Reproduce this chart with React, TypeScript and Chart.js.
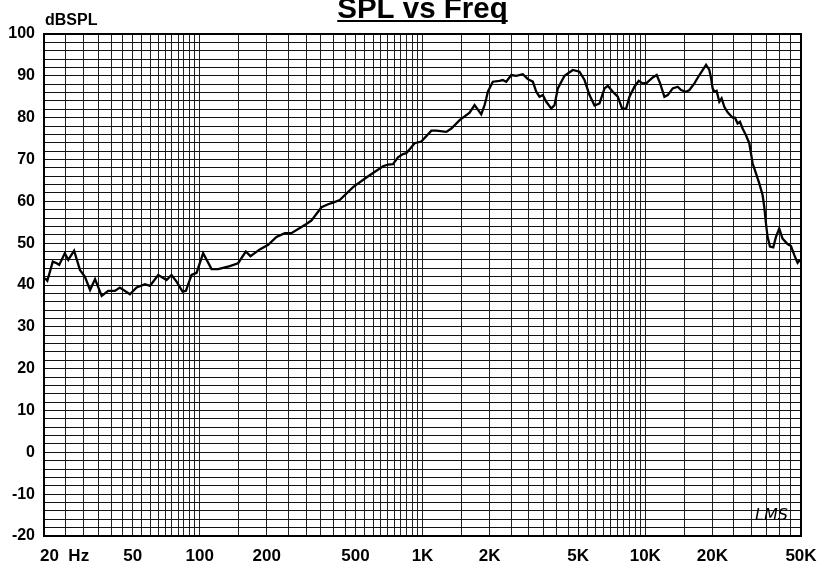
import React, { useEffect, useRef } from 'react';
import { Chart, registerables } from 'chart.js';

Chart.register(...registerables);

const TITLE = 'SPL vs Freq';
const Y_UNIT = 'dBSPL';
const SIGNATURE = 'LMS';

const FREQ_HZ = [
  20.2, 20.7, 21.9, 22.8, 23.4, 24.8, 25.7, 27.3, 29.0, 30.5, 32.2, 33.9, 36.3, 38.8, 41.6, 43.8, 48.6,
  52.1, 56.8, 59.8, 65.1, 71.0, 74.7, 78.7, 83.8, 86.7, 91.9, 96.8, 103.6, 113, 121, 136.5, 148.7,
  161, 169, 186, 203, 221, 241, 258, 301, 317, 352, 377, 397, 425, 488, 560, 665, 700, 737,
  776, 817, 846, 922, 988, 1096, 1153, 1279, 1347, 1468, 1627, 1713, 1835, 1899, 1932, 1965,
  2068, 2217, 2293, 2376, 2503, 2635, 2821, 2970, 3128, 3240, 3351, 3468, 3593, 3783, 3914,
  4050, 4340, 4728, 5067, 5336, 5619, 5917, 6231, 6561, 6789, 7148, 7526, 7877, 8209, 8494,
  8942, 9348, 9742, 10150, 10800, 11255, 11658, 12188, 12611, 13278, 13981, 14478, 15248,
  15777, 16612, 17491, 18743, 19392, 19739, 20060, 20414, 20904, 21495, 22012, 22634, 23418,
  24657, 25272, 25962, 26610, 27340, 28314, 29296, 29813, 30311, 31397, 32485, 33611, 34205,
  34809, 35391, 36276, 37533, 38602, 39933, 41317, 43513, 45063, 46629, 48245, 49459,
];

const SPL_DB = [
  41.6, 41.0, 45.6, 45.2, 44.8, 47.6, 46.0, 48.2, 43.6, 42.0, 38.8, 41.4, 37.4, 38.6, 38.6, 39.4, 37.8,
  39.4, 40.2, 39.8, 42.4, 41.2, 42.4, 40.8, 38.4, 38.6, 42.4, 42.9, 47.6, 43.8, 43.8, 44.5, 45.2,
  48.0, 46.9, 48.5, 49.6, 51.5, 52.4, 52.4, 54.6, 55.4, 58.6, 59.3, 59.7, 60.3, 63.4, 65.7, 68.4, 68.8, 68.9,
  70.5, 71.3, 71.5, 73.9, 74.3, 76.9, 76.9, 76.6, 77.4, 79.4, 81.2, 83.0, 80.8, 83.0, 84.5, 86.2,
  88.6, 88.8, 89.0, 88.6, 90.2, 90.0, 90.4, 89.2, 88.6, 86.2, 85.0, 85.4, 83.8, 82.2, 83.0,
  87.0, 90.0, 91.4, 91.0, 89.0, 85.4, 82.9, 83.4, 87.0, 87.6, 86.2, 85.0, 82.1, 82.2, 85.0,
  87.4, 88.8, 88.2, 88.3, 89.6, 90.2, 88.2, 85.0, 85.4, 87.0, 87.4, 86.6, 86.2,
  86.6, 88.2, 90.2, 92.6, 91.4, 89.4, 87.0, 86.2, 86.4, 83.8, 84.6, 82.6, 81.3,
  80.0, 80.0, 78.6, 79.0, 77.4, 75.8, 73.9, 71.5, 69.1, 66.7, 64.3, 61.5, 58.7,
  54.7, 51.5, 49.2, 49.0, 51.5, 53.5, 51.1, 49.8, 49.3, 47.2, 45.3, 46.0,
];

const X_LABEL_VALUES = [20, 50, 100, 200, 500, 1000, 2000, 5000, 10000, 20000, 50000];
const X_LABELS = ['20  Hz', '50', '100', '200', '500', '1K', '2K', '5K', '10K', '20K', '50K'];
const X_MIN = 20;
const X_MAX = 50000;
const Y_MIN = -20;
const Y_MAX = 100;
const Y_GRID_STEP = 2;
const Y_LABEL_STEP = 10;

// grid line positions: 20..100 step 5, 100..1K step 50, 1K..10K step 500, 10K..50K step 5K
const X_GRID: number[] = [];
for (let v = 20; v < 100; v += 5) X_GRID.push(v);
for (let v = 100; v < 1000; v += 50) X_GRID.push(v);
for (let v = 1000; v < 10000; v += 500) X_GRID.push(v);
for (let v = 10000; v <= 50000; v += 5000) X_GRID.push(v);

const Y_GRID: number[] = [];
for (let v = Y_MIN; v <= Y_MAX; v += Y_GRID_STEP) Y_GRID.push(v);

const FONT = '"Liberation Sans", Arial, sans-serif';
const X_TICK_PAD = 10;
const X_TICK_SIZE = 17;

const decorPlugin = {
  id: 'decor',
  afterDraw(chart: any) {
    const { ctx, chartArea } = chart;
    const { left, right, top, bottom } = chartArea;
    ctx.save();
    // frame
    ctx.strokeStyle = '#000';
    ctx.lineWidth = 2;
    ctx.strokeRect(left, top, right - left, bottom - top);
    // title
    ctx.fillStyle = '#000';
    ctx.font = `bold 29.5px ${FONT}`;
    ctx.textAlign = 'center';
    ctx.textBaseline = 'alphabetic';
    const cx = 422.5;
    ctx.fillText(TITLE, cx, 18);
    const w = ctx.measureText(TITLE).width;
    ctx.fillRect(cx - w / 2, 20, w, 2);
    // unit
    ctx.font = `bold 16px ${FONT}`;
    ctx.textAlign = 'left';
    ctx.fillText(Y_UNIT, 45, 25);
    // first x label, left aligned at the axis
    ctx.font = `bold ${X_TICK_SIZE}px ${FONT}`;
    ctx.textBaseline = 'middle';
    ctx.fillText(X_LABELS[0], 40, bottom + X_TICK_PAD + (X_TICK_SIZE * 1.2) / 2);
    // signature
    ctx.font = `italic 16px "DejaVu Sans", sans-serif`;
    ctx.textBaseline = 'alphabetic';
    ctx.fillStyle = '#000';
    ctx.fillText(SIGNATURE, 755, 520);
    ctx.restore();
  },
};

export default function App() {
  const ref = useRef<HTMLCanvasElement | null>(null);
  useEffect(() => {
    if (!ref.current) return;
    const chart = new Chart(ref.current, {
      type: 'line',
      data: {
        datasets: [
          {
            data: FREQ_HZ.map((f, i) => ({ x: f, y: SPL_DB[i] })),
            borderColor: '#000',
            borderWidth: 2.3,
            pointRadius: 0,
            tension: 0,
            fill: false,
          },
        ],
      },
      options: {
        animation: false,
        responsive: false,
        layout: { padding: { top: 34, right: 33, left: 0, bottom: 0 } },
        plugins: { legend: { display: false }, tooltip: { enabled: false }, title: { display: false } },
        scales: {
          x: {
            type: 'logarithmic',
            min: X_MIN,
            max: X_MAX,
            afterBuildTicks: (s: any) => {
              s.ticks = X_GRID.map((v) => ({ value: v }));
            },
            afterFit: (s: any) => {
              s.height = 29;
            },
            ticks: {
              autoSkip: false,
              maxRotation: 0,
              minRotation: 0,
              padding: X_TICK_PAD,
              color: '#000',
              font: { family: FONT, weight: 'bold', size: X_TICK_SIZE },
              callback: (v: any) => {
                const i = X_LABEL_VALUES.indexOf(Number(v));
                return i > 0 ? X_LABELS[i] : '';
              },
            },
            grid: { color: '#222', lineWidth: 1, drawTicks: false },
            border: { display: false },
          },
          y: {
            type: 'linear',
            min: Y_MIN,
            max: Y_MAX,
            afterBuildTicks: (s: any) => {
              s.ticks = Y_GRID.map((v) => ({ value: v }));
            },
            afterFit: (s: any) => {
              s.width = 44;
            },
            ticks: {
              autoSkip: false,
              padding: 9,
              color: '#000',
              font: { family: FONT, weight: 'bold', size: 16 },
              callback: (v: any) => (Number(v) % Y_LABEL_STEP === 0 ? String(v) : ''),
            },
            grid: { color: '#111', lineWidth: 1, drawTicks: false },
            border: { display: false },
          },
        },
      },
      plugins: [decorPlugin],
    });
    return () => chart.destroy();
  }, []);
  return (
    <div style={{ position: 'fixed', left: 0, top: 0, width: 834, height: 565, background: '#fff' }}>
      <canvas ref={ref} width={834} height={565} />
    </div>
  );
}
